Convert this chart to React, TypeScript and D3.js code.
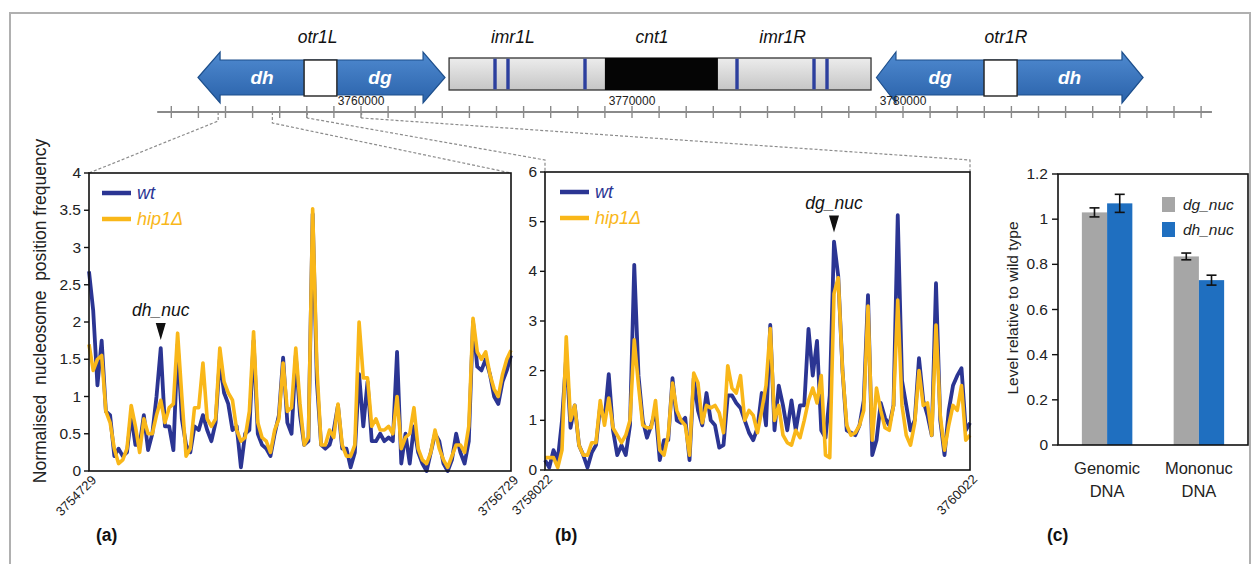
import React from 'react';
import * as d3 from 'd3';

const FONT = '"Liberation Sans", Arial, sans-serif';
const BLUE = '#2b3593';
const ORANGE = '#f9b719';

// chromosome ruler (bp)
const rulerExtent = [3752480, 3791400];
const rulerTicks = d3.range(3753000, 3791001, 1000);
const rulerLabels = [3760000, 3770000, 3780000];
const regionA = [3754729, 3756729];
const regionB = [3758022, 3760022];

// schematic features (bp): tip, head base, box left, box right, head base, tip
const otr1L = [3753985, 3754800, 3757900, 3759110, 3762290, 3763100];
const otr1R = [3779020, 3779740, 3782990, 3784210, 3788080, 3788860];
const otrLText = ['dh', 'dg'];
const otrRText = ['dg', 'dh'];
const imrBox = [3763250, 3778820];
const cntBox = [3769000, 3773170];
const imrBands = [3764945, 3765424, 3768266, 3773875, 3776716, 3777196];
const regionNames = ['otr1L', 'imr1L', 'cnt1', 'imr1R', 'otr1R'];
const regionNamePos = [3758400, 3765600, 3770740, 3775560, 3783800];

// (a) and (b): nucleosome position frequency, 20 bp steps
const stepBp = 20;
const aWt = [2.68, 2.15, 1.15, 1.75, 0.8, 0.75, 0.2, 0.3, 0.2, 0.25, 0.75, 0.35, 0.35, 0.75, 0.28, 0.5, 1.0, 1.65, 0.6, 0.6,
  0.28, 1.7, 0.7, 0.35, 0.25, 0.6, 0.55, 0.75, 0.55, 0.4, 0.65, 1.5, 1.05, 0.9, 0.55, 0.6, 0.05, 0.5, 0.55, 1.75,
  0.5, 0.35, 0.3, 0.2, 0.5, 0.75, 1.52, 0.65, 0.5, 1.55, 0.75, 0.35, 0.4, 3.45, 1.2, 0.35, 0.3, 0.35, 0.55, 0.88,
  0.3, 0.3, 0.05, 0.25, 1.3, 0.6, 1.2, 0.4, 0.4, 0.5, 0.4, 0.45, 0.4, 1.6, 0.1, 0.5, 0.1, 0.6, 0.25, 0.1,
  0.0, 0.25, 0.5, 0.4, 0.1, 0.0, 0.15, 0.5, 0.25, 0.1, 0.4, 2.0, 1.4, 1.35, 1.5, 1.3, 1.0, 0.9, 1.2, 1.35, 1.55];
const aHip = [1.7, 1.35, 1.5, 1.55, 0.8, 0.65, 0.3, 0.1, 0.15, 0.3, 0.88, 0.6, 0.25, 0.7, 0.5, 0.5, 0.75, 0.95, 0.65, 0.85,
  0.9, 1.85, 1.0, 0.2, 0.3, 0.85, 0.85, 1.45, 0.7, 0.6, 0.7, 1.65, 1.2, 1.05, 0.95, 0.55, 0.4, 0.45, 0.8, 1.87,
  0.65, 0.45, 0.4, 0.25, 0.55, 0.7, 1.45, 0.8, 0.85, 1.65, 0.9, 0.35, 0.45, 3.52, 1.4, 0.35, 0.35, 0.55, 0.45, 0.9,
  0.35, 0.2, 0.2, 0.35, 2.0, 1.25, 1.25, 0.6, 0.7, 0.55, 0.55, 0.6, 0.5, 1.0, 0.3, 0.45, 0.5, 0.85, 0.3, 0.15,
  0.1, 0.25, 0.55, 0.3, 0.15, 0.05, 0.2, 0.35, 0.35, 0.25, 0.6, 2.05, 1.6, 1.5, 1.6, 1.3, 1.1, 1.0, 1.3, 1.5, 1.62];
const bWt = [0.2, 0.05, 0.4, 0.2, 1.0, 2.3, 0.85, 1.3, 0.5, 0.3, 0.05, 0.35, 0.5, 1.3, 1.0, 1.93, 0.8, 0.3, 0.5, 0.3,
  0.9, 4.13, 1.9, 1.0, 0.65, 0.9, 1.2, 0.2, 0.6, 0.6, 1.85, 1.0, 0.95, 1.05, 0.2, 1.85, 1.2, 0.9, 1.55, 1.0,
  0.9, 0.45, 0.5, 1.5, 1.5, 1.35, 1.25, 1.0, 0.75, 0.6, 0.85, 1.55, 0.9, 2.92, 0.8, 1.7, 1.3, 0.8, 1.4, 0.8,
  1.3, 1.3, 2.84, 1.9, 2.6, 0.8, 0.65, 1.5, 4.6, 3.9, 2.0, 0.8, 0.75, 0.7, 0.9, 1.4, 3.52, 0.3, 0.6, 1.35,
  1.05, 0.9, 1.3, 5.13, 1.8, 1.3, 0.8, 1.0, 2.25, 1.4, 1.1, 0.7, 3.76, 1.0, 0.3, 1.2, 1.7, 1.9, 2.05, 0.8, 0.95];
const bHip = [0.25, 0.25, 0.25, 0.05, 0.4, 2.68, 1.0, 1.3, 0.5, 0.3, 0.3, 0.55, 0.55, 1.4, 0.9, 1.45, 0.85, 0.7, 0.55, 0.7,
  1.0, 2.62, 1.7, 0.9, 0.85, 0.85, 1.4, 0.4, 0.3, 0.7, 1.75, 1.2, 1.0, 0.9, 0.3, 1.95, 1.75, 0.95, 1.3, 1.25,
  1.3, 1.15, 0.75, 2.1, 1.65, 1.55, 1.9, 1.0, 1.2, 1.1, 0.75, 1.2, 1.7, 2.85, 1.0, 1.3, 0.7, 0.55, 0.5, 0.8,
  0.65, 1.0, 1.4, 1.65, 1.35, 1.9, 0.3, 0.25, 3.55, 3.87, 2.0, 0.9, 0.7, 0.75, 0.9, 1.2, 3.3, 0.6, 1.65, 1.2,
  0.85, 0.8, 1.3, 3.42, 1.3, 0.7, 0.5, 0.95, 2.0, 1.3, 1.35, 0.7, 2.92, 1.1, 0.4, 0.9, 1.3, 1.2, 1.7, 0.6, 0.7];
const aTicks = [0, 0.5, 1, 1.5, 2, 2.5, 3, 3.5, 4];
const bTicks = [0, 1, 2, 3, 4, 5, 6];
const dhNucBp = 3755069;
const dgNucBp = 3759382;

// (c): level relative to wild type
const categories = ['Genomic DNA', 'Mononuc DNA'];
const seriesNames = ['dg_nuc', 'dh_nuc'];
const dgLevel = [1.03, 0.835];
const dhLevel = [1.07, 0.73];
const dgErr = [0.02, 0.015];
const dhErr = [0.04, 0.022];
const cTicks = [0, 0.2, 0.4, 0.6, 0.8, 1, 1.2];

const ruler = d3.scaleLinear().domain([3760000, 3770000]).range([361, 632]);

function arrowPath(f: number[], top: number, bot: number, hTop: number, hBot: number) {
  const [t1, b1, , , b2, t2] = f.map(ruler);
  const mid = (top + bot) / 2;
  return `M${t1},${mid}L${b1},${hTop}L${b1},${top}L${b2},${top}L${b2},${hTop}L${t2},${mid}` +
    `L${b2},${hBot}L${b2},${bot}L${b1},${bot}L${b1},${hBot}Z`;
}

function LinePanel({ region, wt, hip, yMax, ticks, left, right, top, bottom, annot, annotBp, legendX, gap }: any) {
  const x = d3.scaleLinear().domain(region).range([left, right]);
  const y = d3.scaleLinear().domain([0, yMax]).range([bottom, top]);
  const pos = wt.map((_: number, i: number) => region[0] + i * stepBp);
  const line = d3.line<number>().x((_, i) => x(pos[i])).y(d => y(d));
  const ai = Math.round((annotBp - region[0]) / stepBp);
  const peak = Math.max(wt[ai], hip[ai]);
  const ax = x(annotBp);
  const ay = y(peak) - gap;
  return (
    <g>
      <path d={line(wt) || ''} fill="none" stroke={BLUE} strokeWidth={3.8} strokeLinejoin="round" />
      <path d={line(hip) || ''} fill="none" stroke={ORANGE} strokeWidth={3.6} strokeLinejoin="round" />
      <rect x={left} y={top} width={right - left} height={bottom - top} fill="none" stroke="#111" strokeWidth={1.6} />
      {ticks.map((t: number) => (
        <g key={t}>
          <line x1={left - 5} x2={left} y1={y(t)} y2={y(t)} stroke="#111" strokeWidth={1.4} />
          <text x={left - 8} y={y(t) + 5} textAnchor="end" fontSize={15.5} fill="#222">{String(t)}</text>
        </g>
      ))}
      {region.map((r: number) => (
        <text key={r} transform={`translate(${x(r) + 8},${bottom + 10}) rotate(-45)`}
          textAnchor="end" fontSize={13} fill="#222">{String(r)}</text>
      ))}
      <line x1={legendX} x2={legendX + 29} y1={top + 20} y2={top + 20} stroke={BLUE} strokeWidth={4.5} />
      <text x={legendX + 35} y={top + 26} fontSize={18} fontStyle="italic" fill={BLUE}>wt</text>
      <line x1={legendX} x2={legendX + 29} y1={top + 46} y2={top + 46} stroke={ORANGE} strokeWidth={4.5} />
      <text x={legendX + 35} y={top + 52} fontSize={18} fontStyle="italic" fill={ORANGE}>hip1Δ</text>
      <path d={`M${ax - 5},${ay - 17}L${ax + 5},${ay - 17}L${ax},${ay}Z`} fill="#111" />
      <text x={ax} y={ay - 24} textAnchor="middle" fontSize={17.5} fontStyle="italic" fill="#111">{annot}</text>
    </g>
  );
}

function BarPanel() {
  const left = 1058, right = 1248, top = 174, bottom = 445;
  const x0 = d3.scaleBand().domain(categories).range([left, right]).paddingInner(0.45).paddingOuter(0.26);
  const x1 = d3.scaleBand().domain(seriesNames).range([0, x0.bandwidth()]);
  const y = d3.scaleLinear().domain([0, 1.2]).range([bottom, top]);
  const colors = ['#a6a6a6', '#1f6fc0'];
  const vals = [dgLevel, dhLevel];
  const errs = [dgErr, dhErr];
  return (
    <g>
      {categories.map((c, ci) => (
        <g key={c}>
          {seriesNames.map((s, si) => {
            const bx = (x0(c) || 0) + (x1(s) || 0);
            const cx = bx + x1.bandwidth() / 2;
            const v = vals[si][ci];
            const e = errs[si][ci];
            return (
              <g key={s}>
                <rect x={bx} y={y(v)} width={x1.bandwidth()} height={bottom - y(v)} fill={colors[si]} />
                <line x1={cx} x2={cx} y1={y(v + e)} y2={y(v - e)} stroke="#111" strokeWidth={1.6} />
                <line x1={cx - 5} x2={cx + 5} y1={y(v + e)} y2={y(v + e)} stroke="#111" strokeWidth={1.6} />
                <line x1={cx - 5} x2={cx + 5} y1={y(v - e)} y2={y(v - e)} stroke="#111" strokeWidth={1.6} />
              </g>
            );
          })}
          {c.split(' ').map((w, wi) => (
            <text key={w} x={(x0(c) || 0) + x0.bandwidth() / 2} y={bottom + 29 + wi * 23} textAnchor="middle"
              fontSize={16.5} fill="#222">{w}</text>
          ))}
        </g>
      ))}
      <rect x={left} y={top} width={right - left} height={bottom - top} fill="none" stroke="#111" strokeWidth={1.6} />
      {cTicks.map(t => (
        <g key={t}>
          <line x1={left - 6} x2={left} y1={y(t)} y2={y(t)} stroke="#111" strokeWidth={1.4} />
          <text x={left - 10} y={y(t) + 5} textAnchor="end" fontSize={15.5} fill="#222">{String(t)}</text>
        </g>
      ))}
      {seriesNames.map((s, si) => (
        <g key={s}>
          <rect x={1162} y={197 + si * 25} width={13} height={15} fill={colors[si]} />
          <text x={1183} y={210 + si * 25} fontSize={15.5} fontStyle="italic" fill="#222">{s}</text>
        </g>
      ))}
      <text transform={`translate(1018,308) rotate(-90)`} textAnchor="middle" fontSize={15.5}
        fill="#222">Level relative to wild type</text>
    </g>
  );
}

export default function App() {
  const [r0, r1] = rulerExtent.map(ruler);
  const aL = 89, aR = 511, bL = 545, bR = 970, pTop = 173, pBot = 471;
  const dash = { stroke: '#8c8c8c', strokeWidth: 1.2, strokeDasharray: '3,2', fill: 'none' };
  return (
    <svg width={1260} height={564} style={{ position: 'absolute', left: 0, top: 0, background: '#fff' }}
      fontFamily={FONT}>
      <path d="M10,564V13H1250V564" fill="none" stroke="#b0b0b0" strokeWidth={2} />
      <defs>
        <linearGradient id="arrowGrad" x1="0" x2="0" y1="0" y2="1">
          <stop offset="0" stopColor="#4f8ad0" />
          <stop offset="1" stopColor="#2a62aa" />
        </linearGradient>
        <linearGradient id="imrGrad" x1="0" x2="0" y1="0" y2="1">
          <stop offset="0" stopColor="#ececec" />
          <stop offset="1" stopColor="#c6c6c6" />
        </linearGradient>
      </defs>

      {/* schematic */}
      {regionNames.map((n, i) => (
        <text key={n} x={ruler(regionNamePos[i])} y={43} textAnchor="middle" fontSize={17.5} fontStyle="italic"
          fill="#111">{n}</text>
      ))}
      {[otr1L, otr1R].map((f, k) => (
        <g key={k}>
          <path d={arrowPath(f, 60, 95, 52, 103)} fill="url(#arrowGrad)" stroke="#1d4f8c" strokeWidth={1.2} />
          <rect x={ruler(f[2])} y={60} width={ruler(f[3]) - ruler(f[2])} height={36} fill="#fff" stroke="#222"
            strokeWidth={1.4} />
          {(k === 0 ? otrLText : otrRText).map((t, j) => (
            <text key={j} x={j === 0 ? (ruler(f[1]) + ruler(f[2])) / 2 : (ruler(f[3]) + ruler(f[4])) / 2} y={84}
              textAnchor="middle" fontSize={19} fontWeight="bold" fontStyle="italic" fill="#fff">{t}</text>
          ))}
        </g>
      ))}
      <rect x={ruler(imrBox[0])} y={58} width={ruler(imrBox[1]) - ruler(imrBox[0])} height={32}
        fill="url(#imrGrad)" stroke="#333" strokeWidth={1.3} />
      <rect x={ruler(cntBox[0])} y={58} width={ruler(cntBox[1]) - ruler(cntBox[0])} height={32} fill="#050505" />
      {imrBands.map(b => (
        <rect key={b} x={ruler(b) - 1.7} y={58.7} width={3.4} height={30.6} fill="#2c3f9e" />
      ))}

      {/* ruler */}
      <line x1={r0} x2={r1} y1={112} y2={112} stroke="#8a8a8a" strokeWidth={1.8} />
      {rulerTicks.map(t => (
        <line key={t} x1={ruler(t)} x2={ruler(t)} y1={106} y2={118} stroke="#8a8a8a" strokeWidth={1.4} />
      ))}
      {rulerLabels.map(t => (
        <text key={t} x={ruler(t)} y={105} textAnchor="middle" fontSize={12} fill="#222">{String(t)}</text>
      ))}

      {/* zoom connectors */}
      <path d={`M${ruler(regionA[0])},112V121L${aL},${pTop}`} {...dash} />
      <path d={`M${ruler(regionA[1])},112V123L${aR},${pTop}`} {...dash} />
      <path d={`M${ruler(regionB[0])},112V118L${bL},160V${pTop}`} {...dash} />
      <path d={`M${ruler(regionB[1])},112V118L${bR},160V${pTop}`} {...dash} />

      <LinePanel region={regionA} wt={aWt} hip={aHip} yMax={4} ticks={aTicks} left={aL} right={aR} top={pTop}
        bottom={pBot} annot="dh_nuc" annotBp={dhNucBp} legendX={102} gap={8} />
      <LinePanel region={regionB} wt={bWt} hip={bHip} yMax={6} ticks={bTicks} left={bL} right={bR} top={172}
        bottom={470} annot="dg_nuc" annotBp={dgNucBp} legendX={560} gap={9} />
      <text transform="translate(46,311) rotate(-90)" textAnchor="middle" fontSize={17.5} fill="#222"
        style={{ whiteSpace: 'pre' }}>{'Normalised  nucleosome  position frequency'}</text>

      <BarPanel />

      <text x={96} y={541} fontSize={17.5} fontWeight="bold" fill="#111">(a)</text>
      <text x={555} y={541} fontSize={17.5} fontWeight="bold" fill="#111">(b)</text>
      <text x={1047} y={541} fontSize={17.5} fontWeight="bold" fill="#111">(c)</text>
    </svg>
  );
}
